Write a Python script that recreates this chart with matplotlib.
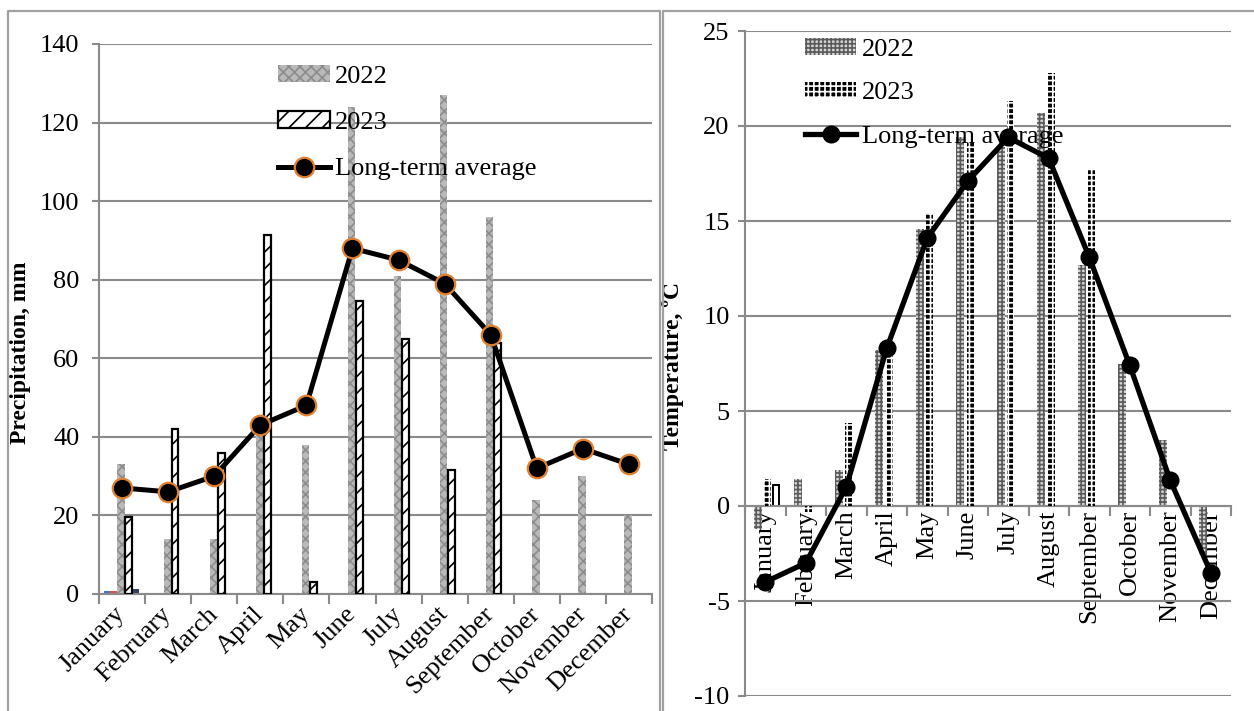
import numpy as np
import matplotlib as mpl
mpl.use('agg')
import matplotlib.pyplot as plt
from matplotlib.lines import Line2D
from matplotlib.patches import Patch

months = ['January', 'February', 'March', 'April', 'May', 'June', 'July',
          'August', 'September', 'October', 'November', 'December']

# precipitation, mm
prec_2022 = [33, 14, 14, 41, 38, 124, 81, 127, 96, 24, 30, 20]
prec_2023 = [19.5, 42, 36, 91.5, 3, 74.5, 65, 31.5, 64, np.nan, np.nan, np.nan]
prec_lta = [27, 26, 30, 43, 48, 88, 85, 79, 66, 32, 37, 33]
# stray tiny series visible in January only
prec_blue = [0.8] + [np.nan] * 11
prec_red = [0.8] + [np.nan] * 11
prec_dark = [1.2] + [np.nan] * 11

# temperature, C
temp_2022 = [-1.2, 1.4, 1.9, 8.2, 14.6, 19.4, 18.9, 20.7, 12.7, 7.5, 3.5, -2.6]
temp_2023 = [1.4, -0.3, 4.35, 7.9, 15.4, 19.2, 21.3, 22.8, 17.7, np.nan, np.nan, np.nan]
temp_lta = [-4.0, -3.0, 1.0, 8.3, 14.1, 17.1, 19.4, 18.3, 13.1, 7.4, 1.35, -3.5]
temp_extra = [1.1] + [np.nan] * 11

plt.rcParams['font.family'] = ['Liberation Serif', 'DejaVu Serif']
plt.rcParams['axes.unicode_minus'] = False
plt.rcParams['hatch.linewidth'] = 1.2
FS = 19
GRID = '#8a8a8a'

W, H = 1254, 711
fig = plt.figure(figsize=(W / 100, H / 100), dpi=100)

# panel frames
for xs, ys in [([8, 8, 660, 660], [720, 11, 11, 720]),
               ([663, 663, 1260], [720, 11, 11])]:
    fig.add_artist(Line2D(np.array(xs) / W, 1 - np.array(ys) / H,
                          color='#a0a0a0', lw=1.6, transform=fig.transFigure))

x = np.arange(12)

# ---------------- left: precipitation ----------------
ax1 = fig.add_axes([99 / W, 1 - 594 / H, 553 / W, 550 / H])
ax1.set_ylim(0, 140)
ax1.set_xlim(-0.5, 11.5)
ax1.set_yticks(np.arange(0, 141, 20))
ax1.yaxis.grid(True, color=GRID, lw=1.5)
ax1.set_axisbelow(True)

ax1.bar(x - 0.33, prec_blue, 0.14, color='#4472c4', zorder=2)
ax1.bar(x - 0.19, prec_red, 0.14, color='#d9534f', zorder=2)
ax1.bar(x - 0.02, prec_2022, 0.16, color='#b9b9b9', edgecolor='#8c8c8c',
        hatch='xxx', lw=0, zorder=2)
ax1.bar(x + 0.15, prec_2023, 0.15, color='white', edgecolor='black',
        hatch='//', lw=1.6, zorder=3)
ax1.bar(x + 0.30, prec_dark, 0.14, color='#33415c', zorder=2)
ax1.plot(x, prec_lta, color='black', lw=3.6, marker='o', ms=14,
         mfc='black', mec='#e07f2e', mew=1.6, zorder=5)

for s in ['top', 'right']:
    ax1.spines[s].set_visible(False)
for s in ['left', 'bottom']:
    ax1.spines[s].set_color(GRID)
    ax1.spines[s].set_linewidth(1.5)
ax1.set_xticks(np.arange(-0.5, 12, 1))
ax1.set_xticklabels([])
ax1.set_xticks(x, minor=True)
ax1.set_xticklabels(months, minor=True, rotation=45, ha='right', va='center',
                    rotation_mode='anchor', fontsize=FS)
ax1.tick_params(axis='x', which='major', length=7, width=1.5, color=GRID)
ax1.tick_params(axis='x', which='minor', length=0, pad=12)
ax1.tick_params(axis='y', length=5, width=1.5, color=GRID, pad=9, labelsize=FS)
ax1.set_ylabel('Precipitation, mm', fontsize=17, fontweight='bold')
ax1.yaxis.set_label_coords(-0.123, 0.438)

h1 = [Patch(facecolor='#b9b9b9', edgecolor='#8c8c8c', hatch='xxx', lw=0),
      Patch(facecolor='white', edgecolor='black', hatch='//', lw=1.6),
      Line2D([], [], color='black', lw=3.6, marker='o', ms=14,
             mfc='black', mec='#e07f2e', mew=1.6)]
ax1.legend(h1, ['2022', '2023', 'Long-term average'], loc='upper left',
           bbox_to_anchor=(0.324, 0.962), frameon=False, fontsize=FS,
           handlelength=1.95, handleheight=0.6, handletextpad=0.2,
           labelspacing=0.9, borderpad=0, borderaxespad=0)

# ---------------- right: temperature ----------------
ax2 = fig.add_axes([745 / W, 1 - 696 / H, 486 / W, 665 / H])
ax2.set_ylim(-10, 25)
ax2.set_xlim(-0.5, 11.5)
ax2.set_yticks(np.arange(-10, 26, 5))
ax2.yaxis.grid(True, color=GRID, lw=1.5)
ax2.set_axisbelow(True)

ax2.bar(x - 0.185, temp_2022, 0.2, color='#d6d6d6', edgecolor='#5a5a5a',
        hatch='++++', lw=0, zorder=2)
ax2.bar(x + 0.06, temp_2023, 0.18, color='black', edgecolor='white',
        hatch='+++', lw=0, zorder=3)
ax2.bar(x + 0.27, temp_extra, 0.16, color='white', edgecolor='black',
        lw=1.4, zorder=2)
ax2.plot(x, temp_lta, color='black', lw=3.8, marker='o', ms=12,
         mfc='black', mec='black', zorder=5)

for s in ['top', 'right']:
    ax2.spines[s].set_visible(False)
ax2.spines['bottom'].set_position(('data', 0))
for s in ['left', 'bottom']:
    ax2.spines[s].set_color(GRID)
    ax2.spines[s].set_linewidth(1.5)
ax2.set_xticks(np.arange(-0.5, 12, 1))
ax2.set_xticklabels([])
ax2.set_xticks(x, minor=True)
ax2.set_xticklabels(months, minor=True, rotation=90, ha='center', va='top',
                    fontsize=FS)
ax2.tick_params(axis='x', which='major', length=7, width=1.5, color=GRID)
ax2.tick_params(axis='x', which='minor', length=0, pad=3)
ax2.tick_params(axis='y', length=5, width=1.5, color=GRID, pad=6, labelsize=FS)
ax2.set_ylabel('Temperature, ºC', fontsize=17, fontweight='bold')
ax2.yaxis.set_label_coords(-0.1255, 0.496)

h2 = [Patch(facecolor='#d6d6d6', edgecolor='#5a5a5a', hatch='++++', lw=0),
      Patch(facecolor='black', edgecolor='white', hatch='+++', lw=0),
      Line2D([], [], color='black', lw=3.8, marker='o', ms=12, mfc='black')]
ax2.legend(h2, ['2022', '2023', 'Long-term average'], loc='upper left',
           bbox_to_anchor=(0.123, 0.989), frameon=False, fontsize=FS,
           handlelength=1.95, handleheight=0.6, handletextpad=0.2,
           labelspacing=0.78, borderpad=0, borderaxespad=0)

fig.savefig('out.png', dpi=100)
